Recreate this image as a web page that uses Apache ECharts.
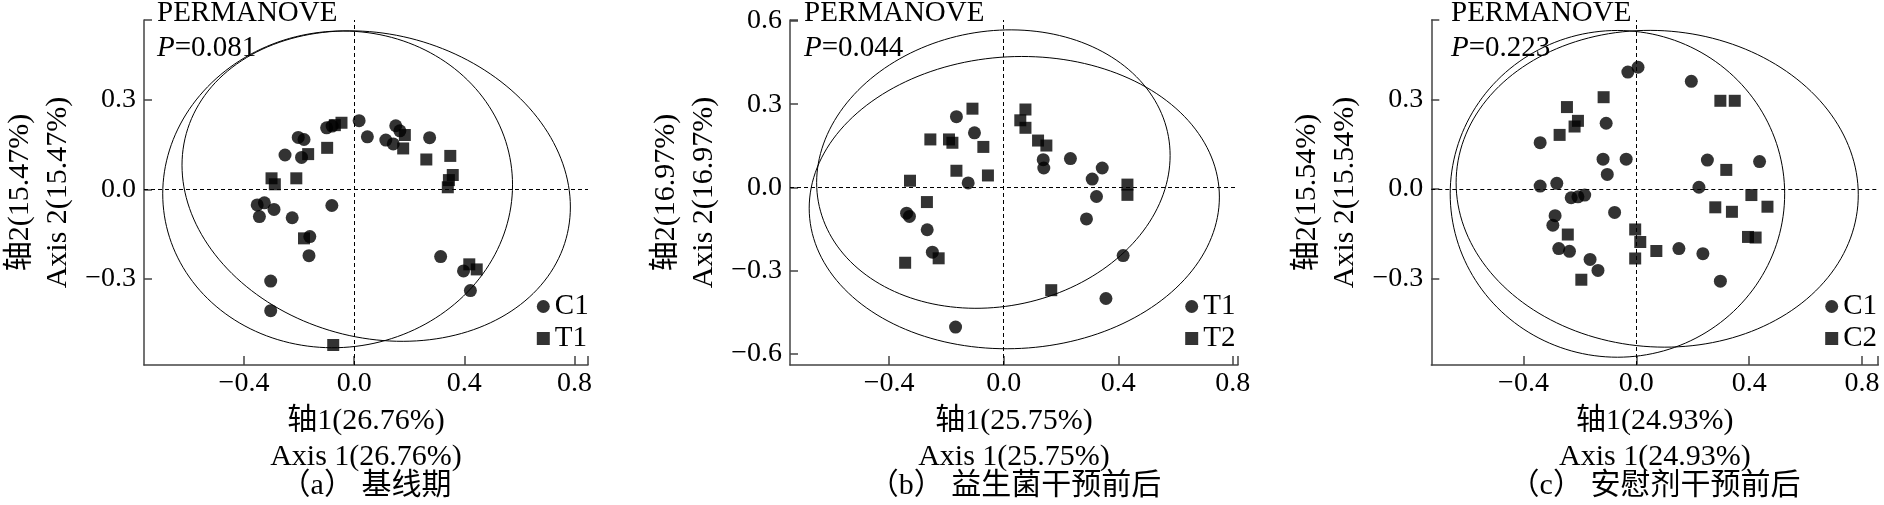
<!DOCTYPE html>
<html>
<head>
<meta charset="utf-8">
<title>PCoA</title>
<script src="https://cdn.jsdelivr.net/npm/echarts@6/dist/echarts.min.js"></script>
<style>
html, body { margin: 0; padding: 0; background: #fff; }
#main { width: 1884px; height: 505px; }
</style>
</head>
<body>
<div id="main"></div>
<script>
// 各组样本坐标 [轴1, 轴2]
var aC1 = [[-0.100, 0.206], [-0.080, 0.212], [-0.203, 0.174], [-0.182, 0.167], [-0.251, 0.115],
    [-0.191, 0.107], [-0.352, -0.052], [-0.326, -0.045], [-0.344, -0.091], [-0.291, -0.067],
    [-0.225, -0.095], [-0.081, -0.054], [-0.161, -0.158], [-0.164, -0.222], [-0.303, -0.307],
    [-0.303, -0.406], [0.018, 0.230], [0.048, 0.176], [0.115, 0.165], [0.151, 0.213],
    [0.166, 0.196], [0.142, 0.152], [0.274, 0.173], [0.314, -0.225], [0.397, -0.273], [0.422, -0.339]];
var aT1 = [[-0.046, 0.223], [-0.070, 0.215], [-0.098, 0.139], [-0.167, 0.118], [-0.210, 0.037],
    [-0.300, 0.037], [-0.288, 0.017], [-0.182, -0.164], [-0.076, -0.521], [0.184, 0.182],
    [0.178, 0.137], [0.262, 0.100], [0.349, 0.112], [0.358, 0.048], [0.344, 0.031],
    [0.340, 0.007], [0.418, -0.251], [0.445, -0.268]];

var bT1 = [[-0.165, 0.255], [-0.102, 0.197], [-0.124, 0.016], [-0.339, -0.093], [-0.329, -0.105],
    [-0.267, -0.153], [-0.249, -0.234], [-0.168, -0.504], [0.138, 0.100], [0.140, 0.070],
    [0.233, 0.104], [0.344, 0.070], [0.309, 0.030], [0.324, -0.033], [0.289, -0.114],
    [0.417, -0.246], [0.357, -0.401]];
var bT2 = [[-0.109, 0.284], [-0.256, 0.173], [-0.191, 0.173], [-0.179, 0.161], [-0.071, 0.146],
    [-0.165, 0.060], [-0.055, 0.043], [-0.327, 0.024], [-0.268, -0.053], [-0.227, -0.256],
    [-0.344, -0.272], [0.076, 0.281], [0.058, 0.242], [0.076, 0.215], [0.120, 0.169],
    [0.149, 0.151], [0.432, 0.010], [0.432, -0.027], [0.166, -0.371]];

var cC1 = [[-0.030, 0.391], [0.006, 0.407], [-0.107, 0.220], [-0.341, 0.155], [-0.118, 0.100],
    [-0.036, 0.100], [-0.103, 0.049], [-0.341, 0.010], [-0.282, 0.019], [-0.231, -0.029],
    [-0.207, -0.026], [-0.183, -0.020], [-0.077, -0.078], [-0.288, -0.089], [-0.296, -0.121],
    [-0.275, -0.199], [-0.237, -0.208], [-0.164, -0.235], [-0.136, -0.272], [0.195, 0.360],
    [0.252, 0.097], [0.437, 0.092], [0.222, 0.006], [0.151, -0.199], [0.236, -0.216], [0.298, -0.308]];
var cC2 = [[-0.116, 0.307], [-0.246, 0.274], [-0.207, 0.228], [-0.219, 0.209], [-0.272, 0.181],
    [-0.243, -0.152], [-0.195, -0.303], [-0.004, -0.135], [0.014, -0.177], [-0.004, -0.232],
    [0.298, 0.295], [0.349, 0.295], [0.319, 0.064], [0.408, -0.020], [0.465, -0.059],
    [0.280, -0.061], [0.339, -0.076], [0.396, -0.160], [0.423, -0.162], [0.071, -0.207]];

// 置信椭圆 [中心x, 中心y, ux, uy, vx, vy]
var aEllipses = [[-0.060, 0.000, 0.635, 0.015, 0, 0.530], [0.080, 0.011, 0.705, -0.070, 0, 0.515]];
var bEllipses = [[-0.036, 0.066, 0.617, 0.049, 0, 0.500], [0.037, -0.055, 0.716, 0.020, 0, 0.527]];
var cEllipses = [[-0.067, -0.016, 0.593, 0.000, 0, 0.546], [0.074, 0.001, 0.713, -0.020, 0, 0.529]];

// 刻度
var xTicks = [-0.4, 0, 0.4, 0.8];
var yTicksA = [-0.3, 0, 0.3];
var yTicksB = [-0.6, -0.3, 0, 0.3, 0.6];

var groupNames = [['C1', 'T1'], ['T1', 'T2'], ['C1', 'C2']];
var pValues = ['0.081', '0.044', '0.223'];
var xNames = ['轴1(26.76%)\nAxis 1(26.76%)', '轴1(25.75%)\nAxis 1(25.75%)', '轴1(24.93%)\nAxis 1(24.93%)'];
var yNames = ['轴2(15.47%)\nAxis 2(15.47%)', '轴2(16.97%)\nAxis 2(16.97%)', '轴2(15.54%)\nAxis 2(15.54%)'];
var captions = ['（a） 基线期', '（b） 益生菌干预前后', '（c） 安慰剂干预前后'];

var serif = "'Liberation Serif', 'Times New Roman', 'Noto Sans CJK SC', serif";

var panels = [
    {left: 141.7, width: 446.3, xMin: -0.763, xMax: 0.849, yMin: -0.588, yMax: 0.567, yTicks: yTicksA,
        pts: [aC1, aT1], ell: aEllipses, textX: 157, capX: 366, legX: 536.8},
    {left: 790, width: 448, xMin: -0.746, xMax: 0.818, yMin: -0.641, yMax: 0.604, yTicks: yTicksB,
        pts: [bT1, bT2], ell: bEllipses, textX: 804, capX: 1015, legX: 1185.2},
    {left: 1431.3, width: 447, xMin: -0.727, xMax: 0.858, yMin: -0.588, yMax: 0.565, yTicks: yTicksA,
        pts: [cC1, cC2], ell: cEllipses, textX: 1451, capX: 1655, legX: 1825.2}
];

function fmt(v) {
    var s = Math.abs(v).toFixed(1);
    return v < -1e-9 ? '\u2212' + s : s;
}

function ellipseItem(params, api) {
    var cx = api.value(0), cy = api.value(1);
    var ux = api.value(2), uy = api.value(3), vx = api.value(4), vy = api.value(5);
    var pts = [];
    for (var k = 0; k < 180; k++) {
        var t = Math.PI * 2 * k / 180;
        pts.push(api.coord([cx + ux * Math.cos(t) + vx * Math.sin(t), cy + uy * Math.cos(t) + vy * Math.sin(t)]));
    }
    return {type: 'polygon', shape: {points: pts}, style: {fill: 'none', stroke: '#000', lineWidth: 1}};
}

var dom = document.getElementById('main');
var myChart = echarts.init(dom, null, {renderer: 'canvas'});

var axisColor = '#444';
var grid = [], xAxis = [], yAxis = [], series = [], legend = [], graphic = [];

panels.forEach(function (p, i) {
    grid.push({left: p.left, top: 20, width: p.width, height: 345});
    xAxis.push({
        gridIndex: i, type: 'value', min: p.xMin, max: p.xMax,
        splitLine: {show: false},
        axisLine: {onZero: false, lineStyle: {color: axisColor, width: 1.5}},
        axisTick: {inside: true, length: 9, lineStyle: {color: axisColor, width: 1.5},
            customValues: xTicks.concat([p.xMax - 0.0005])},
        axisLabel: {customValues: xTicks, formatter: fmt, margin: 5, color: '#000',
            fontFamily: serif, fontSize: 28},
        name: xNames[i], nameLocation: 'middle', nameGap: 31,
        nameTextStyle: {fontFamily: serif, fontSize: 30, lineHeight: 36, color: '#000'}
    });
    yAxis.push({
        gridIndex: i, type: 'value', min: p.yMin, max: p.yMax,
        splitLine: {show: false},
        axisLine: {onZero: false, lineStyle: {color: axisColor, width: 1.5}},
        axisTick: {inside: true, length: 8, lineStyle: {color: axisColor, width: 1.5},
            customValues: p.yTicks.concat([p.yMax - 0.0005])},
        axisLabel: {customValues: p.yTicks, formatter: fmt, margin: 8, color: '#000',
            fontFamily: serif, fontSize: 28},
        name: yNames[i], nameLocation: 'middle', nameGap: 67, nameRotate: 90,
        nameTextStyle: {fontFamily: serif, fontSize: 30, lineHeight: 38, color: '#000'}
    });
    series.push({
        type: 'custom', xAxisIndex: i, yAxisIndex: i, silent: true,
        data: p.ell, renderItem: ellipseItem, z: 1
    });
    series.push({
        name: groupNames[i][0], type: 'scatter', xAxisIndex: i, yAxisIndex: i,
        symbol: 'circle', symbolSize: 13, itemStyle: {color: '#000'}, data: p.pts[0], z: 3,
        markLine: {
            silent: true, symbol: 'none', label: {show: false},
            lineStyle: {type: [4, 3], color: '#000', width: 1},
            data: [{xAxis: 0}, {yAxis: 0}]
        }
    });
    series.push({
        name: groupNames[i][1], type: 'scatter', xAxisIndex: i, yAxisIndex: i,
        symbol: 'rect', symbolSize: 12, itemStyle: {color: '#000'}, data: p.pts[1], z: 3
    });
    legend.push({
        orient: 'vertical', left: p.legX, top: 291.5, padding: 0,
        itemWidth: 13, itemHeight: 13, itemGap: 2, selectedMode: false,
        data: [{name: groupNames[i][0], icon: 'circle'}, {name: groupNames[i][1], icon: 'rect'}],
        textStyle: {fontFamily: serif, fontSize: 29, lineHeight: 30, color: '#000'}
    });
    graphic.push({
        type: 'text', x: p.textX, y: 13,
        style: {text: 'PERMANOVE', fontFamily: serif, fontSize: 29, fill: '#000', verticalAlign: 'middle'}
    });
    graphic.push({
        type: 'text', x: p.textX, y: 48,
        style: {
            text: '{i|P}=' + pValues[i], fontFamily: serif, fontSize: 29, fill: '#000', verticalAlign: 'middle',
            rich: {i: {fontStyle: 'italic', fontFamily: serif, fontSize: 29}}
        }
    });
    graphic.push({
        type: 'text', x: p.capX, y: 486,
        style: {text: captions[i], fontFamily: serif, fontSize: 30, fill: '#000', align: 'center', verticalAlign: 'middle'}
    });
});

var option = {
    animation: false,
    backgroundColor: '#fff',
    textStyle: {fontFamily: serif},
    grid: grid,
    xAxis: xAxis,
    yAxis: yAxis,
    legend: legend,
    graphic: graphic,
    series: series
};

if (option && typeof option === 'object') {
    myChart.setOption(option, true);
}
</script>
</body>
</html>
